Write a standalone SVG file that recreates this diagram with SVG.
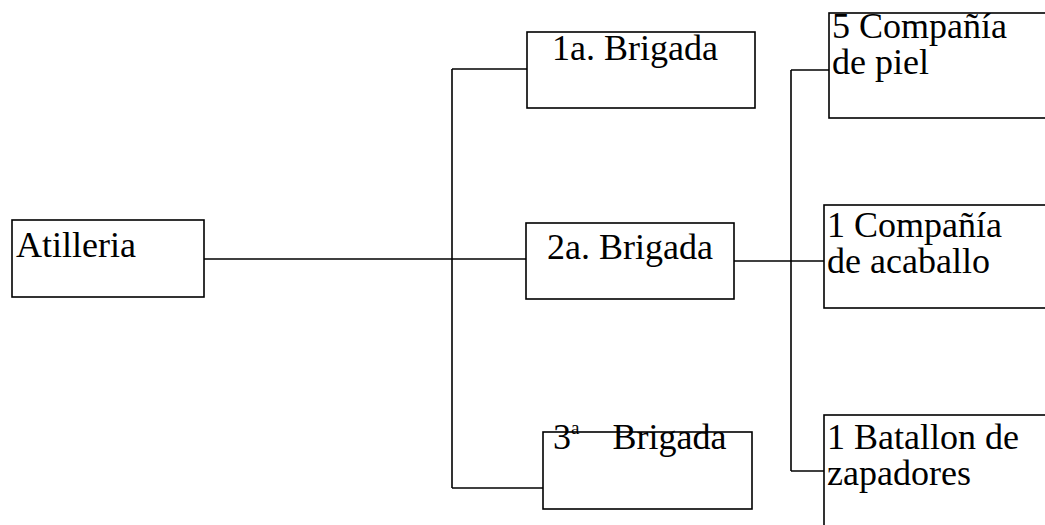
<svg xmlns="http://www.w3.org/2000/svg" width="1045" height="525" viewBox="0 0 1045 525">
<style>
.box{fill:#fff;stroke:#000;stroke-width:1.6}
.ln{stroke:#000;stroke-width:1.6;fill:none}
text{font-family:'Liberation Serif','DejaVu Serif',serif;fill:#000}
.t{font-size:36px}
.sup{font-size:19px}
</style>
<rect width="1045" height="525" fill="#fff"/>
<g id="connectors">
<line class="ln" x1="204" y1="259" x2="526" y2="259"/>
<line class="ln" x1="452" y1="69" x2="452" y2="488"/>
<line class="ln" x1="452" y1="69" x2="527" y2="69"/>
<line class="ln" x1="452" y1="488" x2="543" y2="488"/>
<line class="ln" x1="734" y1="261" x2="824" y2="261"/>
<line class="ln" x1="791" y1="70" x2="791" y2="471"/>
<line class="ln" x1="791" y1="70" x2="829" y2="70"/>
<line class="ln" x1="791" y1="471" x2="824" y2="471"/>
</g>
<g id="atilleria">
<rect class="box" x="12" y="220" width="192" height="77"/>
<text class="t" x="16" y="257">Atilleria</text>
</g>
<g id="brigada1">
<rect class="box" x="527" y="32" width="228" height="76"/>
<text class="t" x="552" y="60">1a. Brigada</text>
</g>
<g id="brigada2">
<rect class="box" x="526" y="223" width="208" height="76"/>
<text class="t" x="547" y="259">2a. Brigada</text>
</g>
<g id="brigada3">
<rect class="box" x="543" y="432" width="209" height="77"/>
<text class="t" x="553" y="449">3<tspan class="sup" dx="0" dy="-15">a</tspan><tspan dx="33" dy="15">Brigada</tspan></text>
</g>
<g id="compania-piel">
<rect class="box" x="829" y="13" width="230" height="105"/>
<text class="t" x="832" y="38">5 Compañía<tspan x="832" dy="36">de piel</tspan></text>
</g>
<g id="compania-caballo">
<rect class="box" x="824" y="205" width="235" height="103"/>
<text class="t" x="827" y="237">1 Compañía<tspan x="827" dy="36">de acaballo</tspan></text>
</g>
<g id="batallon">
<rect class="box" x="824" y="415" width="235" height="130"/>
<text class="t" x="827" y="449">1 Batallon de<tspan x="827" dy="36">zapadores</tspan></text>
</g>
</svg>
